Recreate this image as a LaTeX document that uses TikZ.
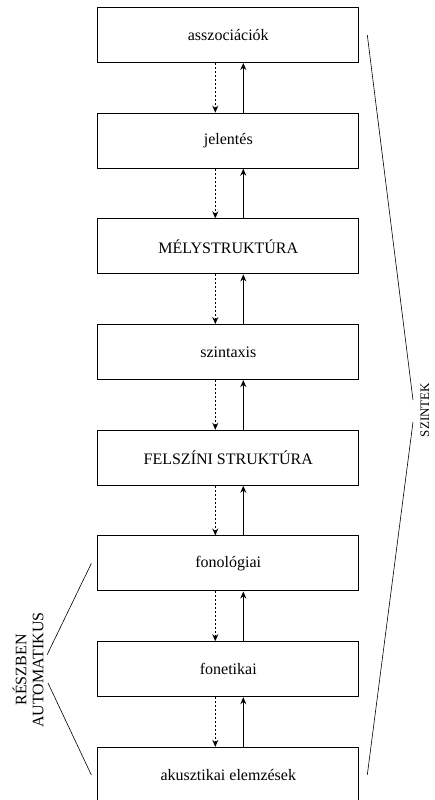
\documentclass[tikz,border=0pt]{standalone}
\usepackage{fontspec}
\setmainfont{Liberation Serif}
\usetikzlibrary{arrows.meta}
\begin{document}
\begin{tikzpicture}[x=1pt,y=1pt,line width=0.8pt,
    font=\fontsize{16}{19}\selectfont,
    level/.style={draw,line width=1pt,minimum width=261pt,minimum height=55pt,inner sep=0pt},
    down/.style={-{Stealth[length=7pt,width=6pt]},dash pattern=on 2pt off 2pt,line width=1.1pt},
    up/.style={-{Stealth[length=7pt,width=6pt]},line width=1.1pt},
    brace/.style={line width=0.6pt}]
    \path[use as bounding box] (0,0) rectangle (434,800);
    \foreach \i/\t in {1/asszociációk,2/jelentés,3/MÉLYSTRUKTÚRA,4/szintaxis,
      5/FELSZÍNI STRUKTÚRA,6/fonológiai,7/fonetikai,8/akusztikai elemzések} {
      \node[level] (b\i) at (228.3,765-105.7*\i+105.7) {\t};
    }
    \foreach \i [evaluate=\i as \j using int(\i+1)] in {1,...,7} {
      \draw[down] ([xshift=-13pt]b\i.south) -- ([xshift=-13pt]b\j.north);
      \draw[up] ([xshift=15pt]b\j.north) -- ([xshift=15pt]b\i.south);
    }
    % szintek
    \node[rotate=90,font=\fontsize{13}{15}\selectfont] (szintek) at (425,390) {SZINTEK};
    \coordinate (sz1) at (413,400);
    \coordinate (sz2) at (413,378);
    \draw[brace] ([xshift=8pt]b1.east) -- (sz1);
    \draw[brace] (sz2) -- ([xshift=8pt]b8.east);
    % reszben automatikus
    \node[rotate=90,align=center,font=\fontsize{16}{17}\selectfont] (auto) at (28,130)
      {RÉSZBEN\\AUTOMATIKUS};
    \coordinate (ra1) at (47,145);
    \coordinate (ra2) at (48,117);
    \draw[brace] ([xshift=-6pt]b6.west) -- (ra1);
    \draw[brace] (ra2) -- ([xshift=-6pt]b8.west);
  \end{tikzpicture}
\end{document}
